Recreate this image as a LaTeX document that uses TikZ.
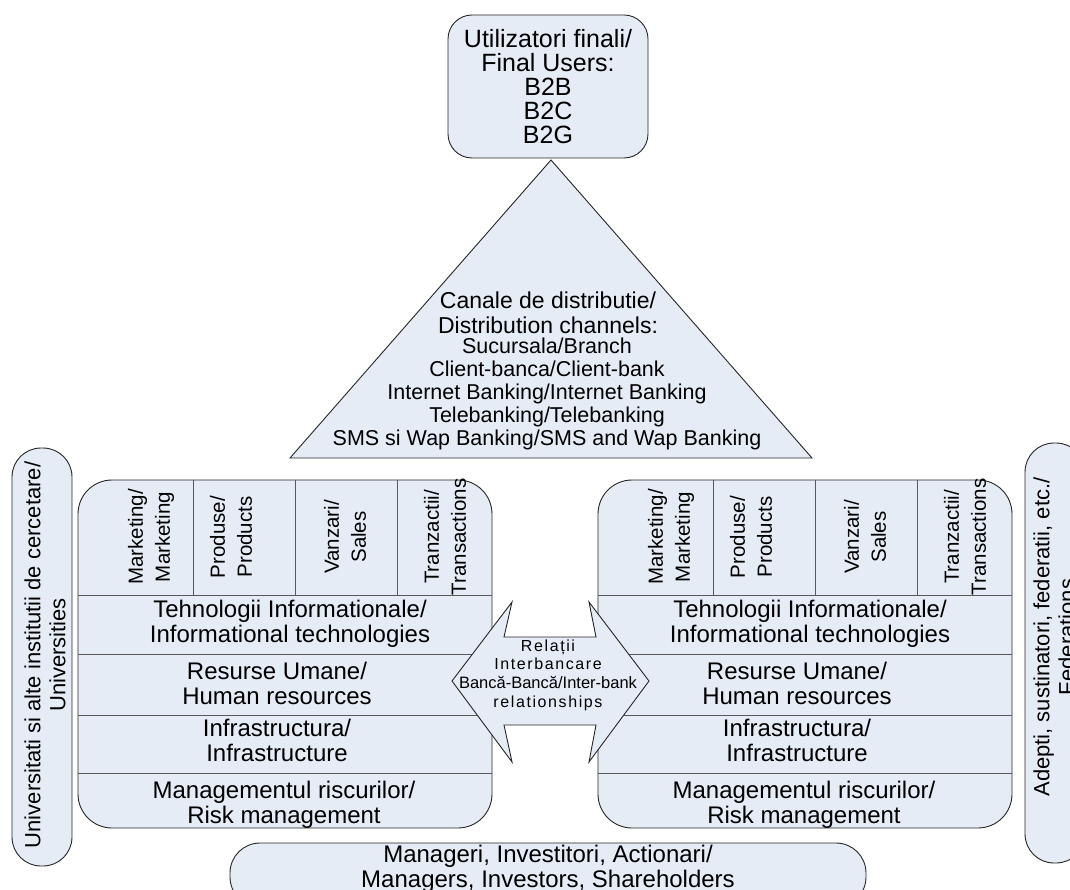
\documentclass[tikz,border=0pt]{standalone}
\usepackage{fontspec}
\setmainfont{Liberation Sans}
\newfontfamily\spacedfont[LetterSpace=10]{Liberation Sans}
\usepackage{tikz}
\definecolor{boxfill}{RGB}{230,236,246}
\def\blockgap{520}

\begin{document}
\begin{tikzpicture}[x=1pt,y=-1pt,line width=0.9pt]
    \tikzstyle{panel}=[draw=black!85,fill=boxfill]
    \tikzstyle{divider}=[draw=black!65]
    \tikzstyle{txt}=[align=center,inner sep=0pt,font=\fontsize{24}{25}\selectfont]
    \tikzstyle{head txt}=[txt,rotate=90,font=\fontsize{20.5}{27}\selectfont]
    \tikzstyle{side txt}=[txt,rotate=90,font=\fontsize{22}{25}\selectfont]
    \tikzstyle{list txt}=[txt,font=\fontsize{21.5}{23}\selectfont]
    \tikzstyle{rel txt}=[txt,font=\fontsize{16}{18.7}\selectfont]

    \useasboundingbox (0,0) rectangle (1070,890);

    % Draw the final users box
    \node[panel,txt,font=\fontsize{25}{24}\selectfont,rounded corners=24pt,
          minimum width=200pt,minimum height=143pt] (users) at (548,86.5)
          {Utilizatori finali/\\Final Users:\\B2B\\B2C\\B2G};

    % Draw the distribution channels triangle
    \draw[panel] (551,160) -- (812,458) -- (290,458) -- cycle;
    \node[txt,font=\fontsize{23}{25}\selectfont] (chan) at (548,313)
          {Canale de distributie/\\Distribution channels:};
    \node[list txt] (chan-list) at (547,394)
          {Sucursala/Branch\\Client-banca/Client-bank\\Internet Banking/Internet Banking\\
           Telebanking/Telebanking\\SMS si Wap Banking/SMS and Wap Banking};

    % Draw the two bank blocks
    \foreach \b / \xoff in {L/0, R/\blockgap} {
        \begin{scope}[xshift=\xoff pt]
        \draw[panel,rounded corners=34pt] (78,480) rectangle (492,828);
        \foreach \y in {595,654,715,773}
            \draw[divider] (78,\y) -- (492,\y);
        \foreach \x in {193,295,397}
            \draw[divider] (\x,480) -- (\x,595);
        \node[head txt] (mkt-\b) at (151,537) {Marketing/\\Marketing};
        \node[head txt] (prod-\b) at (231,537) {Produse/\\Products};
        \node[head txt] (sales-\b) at (345,537) {Vanzari/\\Sales};
        \node[head txt] (trans-\b) at (445,537) {Tranzactii/\\Transactions};
        \node[txt] (it-\b) at (290,624) {Tehnologii Informationale/\\Informational technologies};
        \node[txt] (hr-\b) at (277,683) {Resurse Umane/\\Human resources};
        \node[txt] (infra-\b) at (277,740) {Infrastructura/\\Infrastructure};
        \node[txt] (risk-\b) at (284,805) {Managementul riscurilor/\\Risk management};
        \end{scope}
    }

    % Draw the inter-bank double arrow
    \draw[panel] (452,681) -- (512,602) -- (504,637) -- (596,637) -- (589,602) -- (649,681)
        -- (589,762) -- (596,725) -- (504,725) -- (512,762) -- cycle;
    \node[rel txt] (rel) at (548,675)
          {{\spacedfont Relații}\\{\spacedfont Interbancare}\\
           {\fontsize{16.5}{18.7}\selectfont Bancă-Bancă/Inter-bank}\\{\spacedfont relationships}};

    % Draw the side boxes
    \node[panel,rounded corners=29pt,rotate=90,minimum width=418pt,minimum height=60pt] (univ) at (42,657) {};
    \node[side txt] (univ-txt) at (45,655) {Universitati si alte institutii de cercetare/\\Universities};
    \node[panel,rounded corners=29pt,rotate=90,minimum width=420pt,minimum height=60pt] (fed) at (1055,653) {};
    \node[side txt] (fed-txt) at (1054,637) {Adepti, sustinatori, federatii, etc./\\Federations};

    % Draw the owners box
    \node[panel,rounded corners=30pt,minimum width=636pt,minimum height=64pt] (owners) at (548,875) {};
    \node[txt] (owners-txt) at (548,869) {Manageri, Investitori, Actionari/\\Managers, Investors, Shareholders};
\end{tikzpicture}
\end{document}
